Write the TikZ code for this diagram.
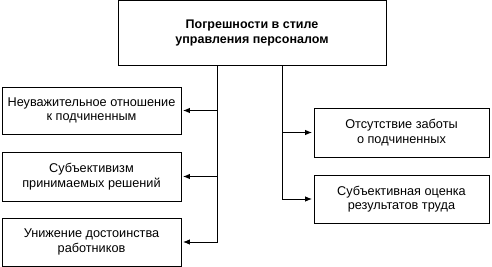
\documentclass[tikz,border=0pt]{standalone}
\usepackage{fontspec}
\setmainfont{Liberation Sans}
\usetikzlibrary{arrows.meta}
\tikzset{
    box/.style={draw, line width=0.9pt, align=center, inner sep=2pt, font=\fontsize{12.7}{14.5}\selectfont},
    arr/.style={-{Latex[length=7pt,width=5.5pt]}, line width=0.9pt, shorten >=1.5pt}
}

\begin{document}
\begin{tikzpicture}[x=1pt,y=-1pt]
    \useasboundingbox (0,0) rectangle (492,267);

    % Top box
    \node[box, minimum width=268pt, minimum height=65pt, font=\fontsize{12.5}{15}\selectfont\bfseries] (top) at (252,32.5)
        {Погрешности в стиле\\управления персоналом};

    % Left boxes
    \node[box, minimum width=179pt, minimum height=47pt] (neuv) at (91.5,110.5)
        {Неуважительное отношение\\к подчиненным};
    \node[box, minimum width=179pt, minimum height=49pt] (subj) at (91.5,176.5)
        {Субъективизм\\принимаемых решений};
    \node[box, minimum width=179pt, minimum height=48pt] (unizh) at (91.5,242)
        {Унижение достоинства\\работников};

    % Right boxes
    \node[box, minimum width=175pt, minimum height=49pt] (zabota) at (401.5,132.5)
        {Отсутствие заботы\\о подчиненных};
    \node[box, minimum width=175pt, minimum height=48pt] (ocenka) at (401.5,199)
        {Субъективная оценка\\результатов труда};

    % Connectors
    \coordinate (lx) at (217,0);
    \coordinate (rx) at (282,0);
    \draw[arr] (top.south -| lx) |- (neuv.east);
    \draw[arr] (top.south -| lx) |- (subj.east);
    \draw[arr] (top.south -| lx) |- (unizh.east);
    \draw[arr] (top.south -| rx) |- (zabota.west);
    \draw[arr] (top.south -| rx) |- (ocenka.west);

\end{tikzpicture}
\end{document}
